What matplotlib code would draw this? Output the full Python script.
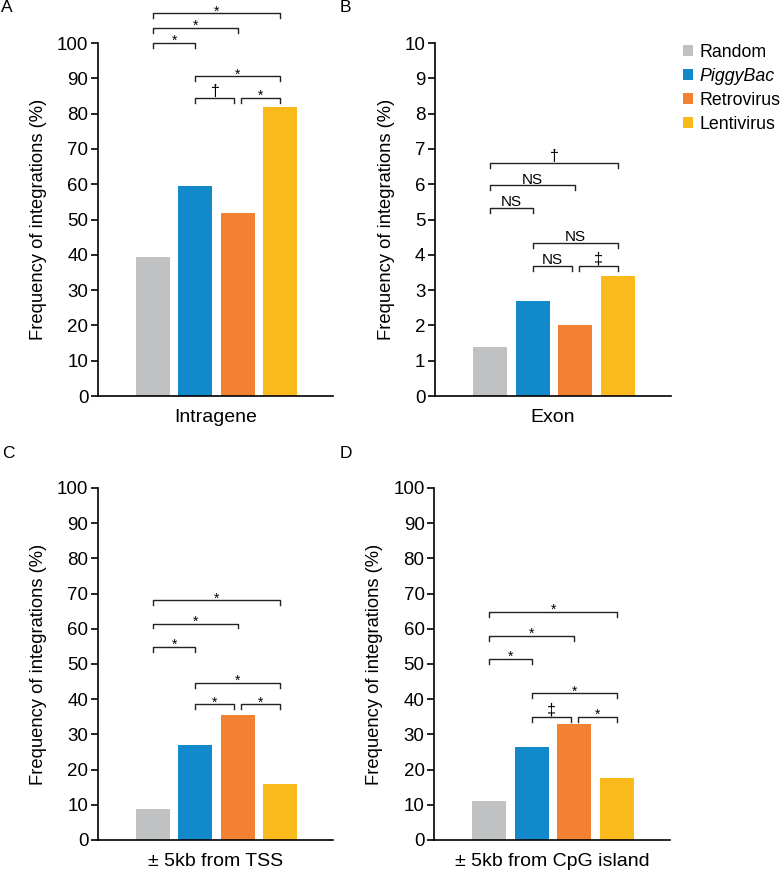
import matplotlib.pyplot as plt
from matplotlib.patches import Patch

plt.rcParams['font.family'] = ['Liberation Sans', 'DejaVu Sans']

groups = ["Random", "PiggyBac", "Retrovirus", "Lentivirus"]
colors = ["#BFC1C3", "#1289CB", "#F28131", "#FBBA1B"]

intragene = [39.3, 59.4, 51.9, 81.9]
exon = [1.4, 2.7, 2.0, 3.4]
tss = [8.8, 27.0, 35.5, 15.8]
cpg = [11.2, 26.4, 33.0, 17.6]

# brackets: (from bar, to bar, height, label)
sig_a = [(0, 1, 100.1, "*"), (0, 2, 104.3, "*"), (0, 3, 108.4, "*"),
         (1, 3, 90.6, "*"), (1, 2, 84.5, "\u2020"), (2, 3, 84.5, "*")]
sig_b = [(0, 1, 5.33, "NS"), (0, 2, 5.98, "NS"), (0, 3, 6.61, "\u2020"),
         (1, 3, 4.34, "NS"), (1, 2, 3.69, "NS"), (2, 3, 3.69, "\u2021")]
sig_c = [(0, 1, 54.9, "*"), (0, 2, 61.5, "*"), (0, 3, 68.1, "*"),
         (1, 3, 44.7, "*"), (1, 2, 38.5, "*"), (2, 3, 38.5, "*")]
sig_d = [(0, 1, 51.5, "*"), (0, 2, 58.0, "*"), (0, 3, 64.8, "*"),
         (1, 3, 41.7, "*"), (1, 2, 35.0, "\u2021"), (2, 3, 35.0, "*")]


def draw_panel(ax, values, sigs, ymax, xlabel):
    x = range(len(values))
    ax.bar(x, values, width=0.8, color=colors)
    ax.set_xlim(-1.3, 4.25)
    ax.set_ylim(0, ymax)
    ax.set_yticks([ymax / 10 * k for k in range(11)])
    ax.set_yticklabels([f"{ymax / 10 * k:g}" for k in range(11)])
    ax.set_xticks([])
    ax.set_xlabel(xlabel, fontsize=14, labelpad=9)
    ax.set_ylabel("Frequency of integrations (%)", fontsize=13.2, labelpad=7)
    ax.spines["top"].set_visible(False)
    ax.spines["right"].set_visible(False)
    ax.spines["left"].set_linewidth(1.2)
    ax.spines["bottom"].set_linewidth(1.2)
    ax.tick_params(axis="y", labelsize=13.5, length=5, width=1.2, pad=2)
    tick = ymax * 0.014
    for i, j, h, lab in sigs:
        x0, x1 = i, j
        if j - i == 1 and i == 1:
            x1 = j - 0.08
        if j - i == 1 and i == 2:
            x0 = i + 0.08
        ax.plot([x0, x0, x1, x1], [h - tick, h, h, h - tick], color="#222222",
                lw=1.0, clip_on=False)
        xm = (x0 + x1) / 2
        if lab == "*":
            ax.text(xm, h - ymax * 0.006, lab, ha="center", va="baseline",
                    fontsize=10, clip_on=False)
        elif lab == "NS":
            ax.text(xm, h + ymax * 0.004, lab, ha="center", va="baseline",
                    fontsize=11, clip_on=False)
        else:
            ax.text(xm, h + ymax * 0.006, lab, ha="center", va="baseline",
                    fontsize=11.5, clip_on=False)


fig = plt.figure(figsize=(7.81, 8.75), dpi=100)
ax_a = fig.add_axes([0.1255, 0.5474, 0.301, 0.4034])
ax_b = fig.add_axes([0.557, 0.5474, 0.302, 0.4034])
ax_c = fig.add_axes([0.1255, 0.04, 0.301, 0.4023])
ax_d = fig.add_axes([0.556, 0.04, 0.302, 0.4023])

draw_panel(ax_a, intragene, sig_a, 100, "Intragene")
draw_panel(ax_b, exon, sig_b, 10, "Exon")
draw_panel(ax_c, tss, sig_c, 100, "\u00b1 5kb from TSS")
draw_panel(ax_d, cpg, sig_d, 100, "\u00b1 5kb from CpG island")

for lab, px, py in [("A", 1, 8), ("B", 340, 8), ("C", 2, 453), ("D", 340, 453)]:
    fig.text(px / 781, 1 - py / 875, lab, fontsize=12.5, ha="left", va="center")

handles = [Patch(facecolor=c, edgecolor="none") for c in colors]
leg = fig.legend(handles, groups, loc="upper left", bbox_to_anchor=(0.875, 0.95),
                 frameon=False, fontsize=12.8, handlelength=0.55, handleheight=0.55,
                 handletextpad=0.35, labelspacing=0.4, borderaxespad=0, borderpad=0)
leg.get_texts()[1].set_style("italic")

fig.savefig("out.png", dpi=100)
